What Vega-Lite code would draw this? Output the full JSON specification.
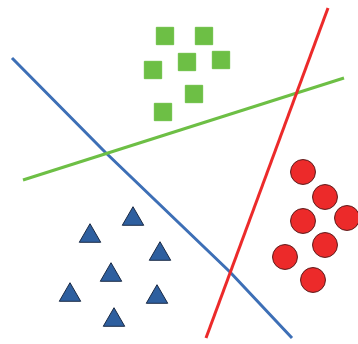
{
  "$schema": "https://vega.github.io/schema/vega-lite/v6.json",
  "width": 358,
  "height": 344,
  "autosize": {"type": "none"},
  "padding": 0,
  "background": "white",
  "config": {"view": {"stroke": null}},
  "datasets": {
    "lines": [
      {"x": 12, "y": 58, "line": "blue"},
      {"x": 105, "y": 152, "line": "blue"},
      {"x": 230, "y": 272, "line": "blue"},
      {"x": 292, "y": 338, "line": "blue"},
      {"x": 23, "y": 180, "line": "green"},
      {"x": 344, "y": 78, "line": "green"},
      {"x": 328, "y": 8, "line": "red"},
      {"x": 206, "y": 338, "line": "red"}
    ],
    "points": [
      {"x": 165, "y": 36, "cls": "square"},
      {"x": 204, "y": 36, "cls": "square"},
      {"x": 187, "y": 62, "cls": "square"},
      {"x": 221, "y": 60, "cls": "square"},
      {"x": 153, "y": 70, "cls": "square"},
      {"x": 194, "y": 94, "cls": "square"},
      {"x": 163, "y": 112, "cls": "square"},
      {"x": 133, "y": 216, "cls": "triangle"},
      {"x": 90, "y": 233, "cls": "triangle"},
      {"x": 160, "y": 251, "cls": "triangle"},
      {"x": 111, "y": 272, "cls": "triangle"},
      {"x": 70, "y": 292, "cls": "triangle"},
      {"x": 157, "y": 294, "cls": "triangle"},
      {"x": 114, "y": 317, "cls": "triangle"},
      {"x": 303, "y": 172, "cls": "circle"},
      {"x": 325, "y": 197, "cls": "circle"},
      {"x": 303, "y": 221, "cls": "circle"},
      {"x": 347, "y": 218, "cls": "circle"},
      {"x": 325, "y": 245, "cls": "circle"},
      {"x": 285, "y": 257, "cls": "circle"},
      {"x": 313, "y": 280, "cls": "circle"}
    ]
  },
  "layer": [
    {
      "data": {"name": "lines"},
      "mark": {"type": "line", "strokeWidth": 3},
      "encoding": {
        "x": {"field": "x", "type": "quantitative", "scale": {"domain": [0, 358], "nice": false, "zero": false}, "axis": null},
        "y": {"field": "y", "type": "quantitative", "scale": {"domain": [0, 344], "nice": false, "zero": false, "reverse": true}, "axis": null},
        "detail": {"field": "line"},
        "color": {"field": "line", "type": "nominal", "scale": {"domain": ["blue", "green", "red"], "range": ["#3d6fb6", "#6dbf45", "#ec2a2a"]}, "legend": null}
      }
    },
    {
      "data": {"name": "points"},
      "mark": {"type": "point", "filled": true, "opacity": 1, "strokeWidth": 1},
      "encoding": {
        "x": {"field": "x", "type": "quantitative", "scale": {"domain": [0, 358], "nice": false, "zero": false}, "axis": null},
        "y": {"field": "y", "type": "quantitative", "scale": {"domain": [0, 344], "nice": false, "zero": false, "reverse": true}, "axis": null},
        "shape": {"field": "cls", "type": "nominal", "scale": {"domain": ["square", "triangle", "circle"], "range": ["square", "triangle-up", "circle"]}, "legend": null},
        "fill": {"field": "cls", "type": "nominal", "scale": {"domain": ["square", "triangle", "circle"], "range": ["#6dbf45", "#2e5f9f", "#ec2a2a"]}, "legend": null},
        "stroke": {"field": "cls", "type": "nominal", "scale": {"domain": ["square", "triangle", "circle"], "range": ["#6dbf45", "#1a2a45", "#5a1a1a"]}, "legend": null},
        "size": {"field": "cls", "type": "nominal", "scale": {"domain": ["square", "triangle", "circle"], "range": [300, 620, 330]}, "legend": null}
      }
    }
  ]
}
